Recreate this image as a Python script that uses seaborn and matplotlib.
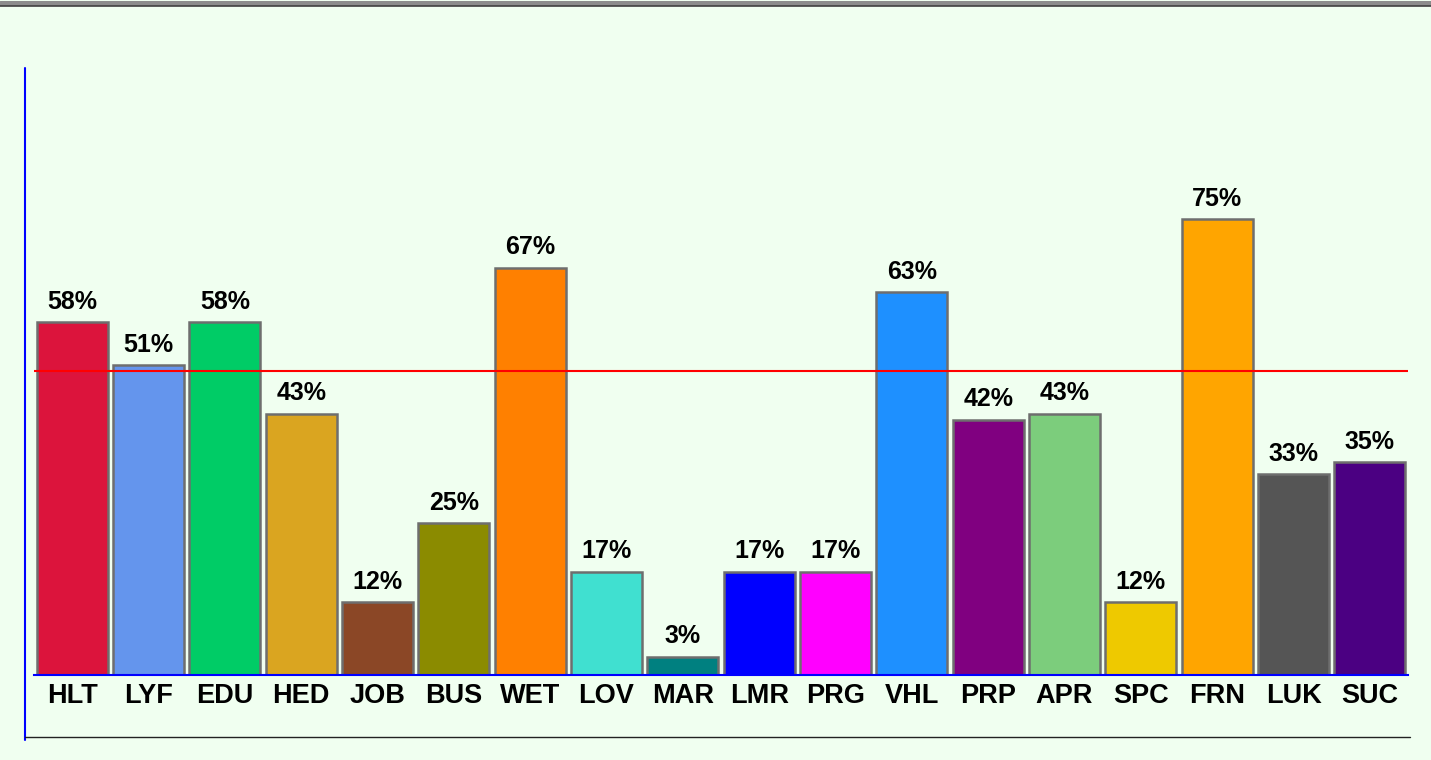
import matplotlib
matplotlib.use("Agg")
import matplotlib.pyplot as plt
import seaborn as sns
import pandas as pd
from matplotlib.lines import Line2D

categories = ["HLT", "LYF", "EDU", "HED", "JOB", "BUS", "WET", "LOV", "MAR",
              "LMR", "PRG", "VHL", "PRP", "APR", "SPC", "FRN", "LUK", "SUC"]
values = [58, 51, 58, 43, 12, 25, 67, 17, 3, 17, 17, 63, 42, 43, 12, 75, 33, 35]
colors = ["#DC143C", "#6495ED", "#00CC66", "#DAA520", "#8B4726", "#8B8B00",
          "#FF8000", "#40E0D0", "#008080", "#0000FF", "#FF00FF", "#1E90FF",
          "#800080", "#7CCD7C", "#EEC900", "#FFA500", "#555555", "#4B0082"]
reference_line = 50

sns.set_theme(style="white")
plt.rcParams['font.family'] = ['Liberation Sans', 'DejaVu Sans']

bg = "#F0FFF0"
W, H = 1431, 760
fig = plt.figure(figsize=(W / 100, H / 100), dpi=100, facecolor=bg)
ax = fig.add_axes([34 / W, (H - 675) / H, (1408 - 34) / W, 608 / H])
ax.set_facecolor(bg)

df = pd.DataFrame({"cat": categories, "val": values})
sns.barplot(data=df, x="cat", y="val", hue="cat", palette=colors, legend=False,
            width=0.93, edgecolor="#6E6E6E", linewidth=1.8, saturation=1, ax=ax)

ax.set_xlim(-0.5, len(categories) - 0.5)
ax.set_ylim(0, 100)
for s in ["top", "right", "left"]:
    ax.spines[s].set_visible(False)
ax.spines["bottom"].set_color("#0000FF")
ax.spines["bottom"].set_linewidth(1.5)
ax.set_yticks([])
ax.set_xlabel("")
ax.set_ylabel("")
ax.tick_params(axis="x", length=0, pad=6)
for t in ax.get_xticklabels():
    t.set_fontsize(19.5)
    t.set_fontweight("bold")
    t.set_color("black")

ax.axhline(reference_line, color="#FF0000", linewidth=1.5, zorder=5)

for i, v in enumerate(values):
    ax.annotate(f"{v}%", (i, v), xytext=(0, 6), textcoords="offset points",
                ha="center", va="bottom", fontsize=18, fontweight="bold",
                color="black")

# decorative frame lines
fig.add_artist(Line2D([0, 1], [1 - 2.5 / H, 1 - 2.5 / H], color="#8C8C8C",
                      linewidth=3.6, transform=fig.transFigure))
fig.add_artist(Line2D([0, 1], [1 - 5.5 / H, 1 - 5.5 / H], color="#404040",
                      linewidth=1.2, transform=fig.transFigure))
fig.add_artist(Line2D([25 / W, 25 / W], [1 - 68 / H, 1 - 740 / H], color="#0000FF",
                      linewidth=1.5, transform=fig.transFigure))
fig.add_artist(Line2D([25 / W, 1410 / W], [1 - 737 / H, 1 - 737 / H], color="#222222",
                      linewidth=1.0, transform=fig.transFigure))

fig.savefig("out.png", dpi=100, facecolor=bg)
